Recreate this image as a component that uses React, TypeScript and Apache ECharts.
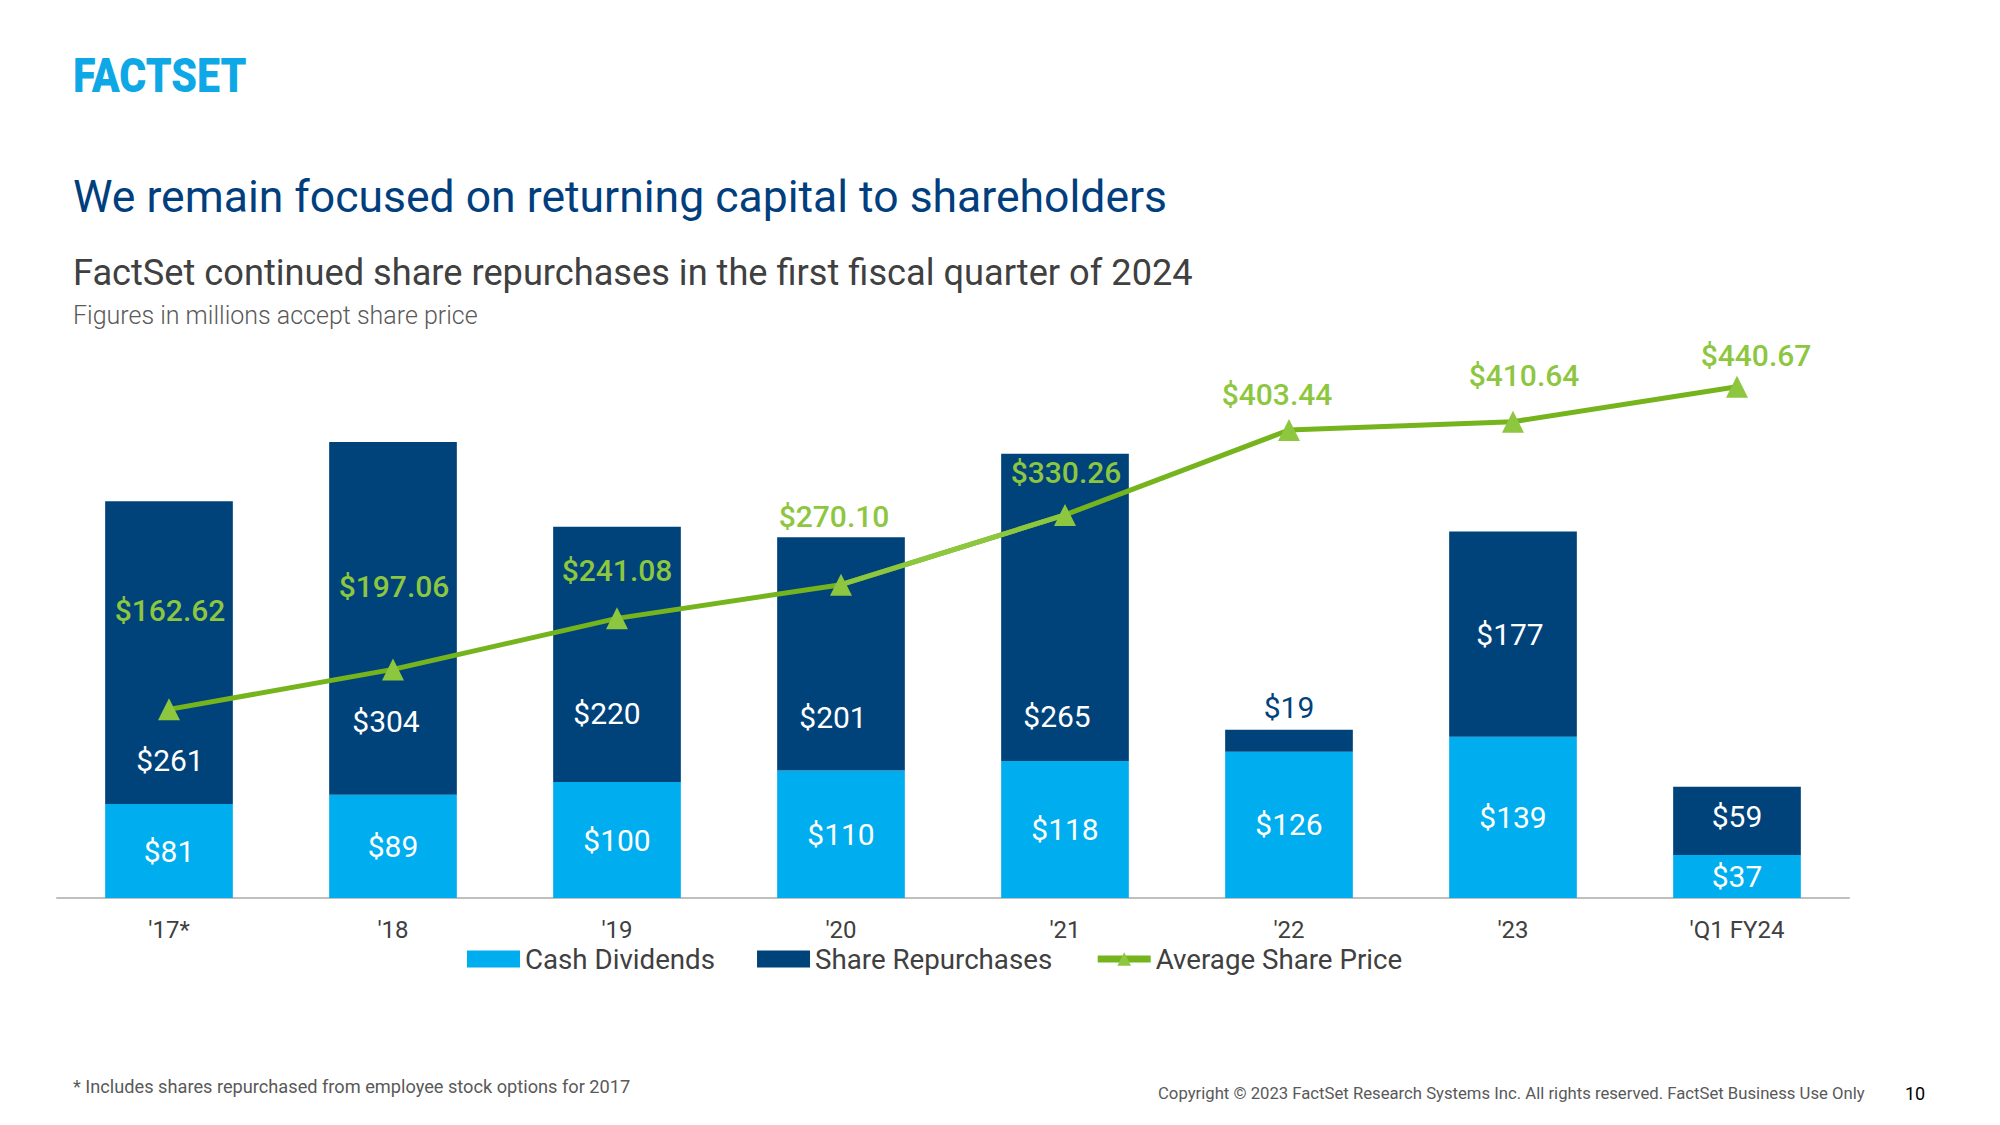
import React, { useEffect, useRef } from "react";
import * as echarts from "echarts";

const categories = ["'17*", "'18", "'19", "'20", "'21", "'22", "'23", "'Q1 FY24"];
const cashDividends = [81, 89, 100, 110, 118, 126, 139, 37];
const shareRepurchases = [261, 304, 220, 201, 265, 19, 177, 59];
const avgSharePrice = [162.62, 197.06, 241.08, 270.1, 330.26, 403.44, 410.64, 440.67];

// label nudges (style only)
const repLabelShift: (number[] | null)[] = [[1, 108], [-7, 103], [-10, 59], [-8, 64], [-8, 109], null, [-3, 0], [0, -4]];
const priceLabelShift = [[1, -68], [1, -52], [0, -17], [-7, -37], [1, -11], [-12, -5], [11, -15], [19, 0]];

const CYAN = "#00AEEF";
const NAVY = "#00437A";
const GREEN_DARK = "#76B41E";
const GREEN_LIGHT = "#8DC63F";
const FONT = "Roboto";

export default function App() {
  const ref = useRef<HTMLDivElement>(null);
  useEffect(() => {
    document.body.style.margin = "0";
    const chart = echarts.init(ref.current!, null, { renderer: "svg" });
    const segment = avgSharePrice.map((v, i) => (i === 3 || i === 4 ? v : "-"));
    chart.setOption({
      animation: false,
      backgroundColor: "#ffffff",
      textStyle: { fontFamily: FONT },
      graphic: [
        {
          type: "text",
          x: 73,
          y: 75,
          scaleX: 0.84,
          style: { text: "FACTSET", font: `900 49px ${FONT}`, fill: "#0EA8E6", verticalAlign: "middle" },
        },
        {
          type: "text",
          x: 73,
          y: 197,
          style: { text: "We remain focused on returning capital to shareholders", font: `400 44.5px ${FONT}`, fill: "#003E7E", verticalAlign: "middle" },
        },
        {
          type: "text",
          x: 73,
          y: 272,
          style: { text: "FactSet continued share repurchases in the first fiscal quarter of 2024", font: `400 36.2px ${FONT}`, fill: "#404040", verticalAlign: "middle" },
        },
        {
          type: "text",
          x: 73,
          y: 315,
          style: { text: "Figures in millions accept share price", font: `300 25px ${FONT}`, fill: "#595959", verticalAlign: "middle" },
        },
        {
          type: "text",
          x: 73,
          y: 1086,
          style: { text: "* Includes shares repurchased from employee stock options for 2017", font: `400 18.2px ${FONT}`, fill: "#595959", verticalAlign: "middle" },
        },
        {
          type: "text",
          x: 1158,
          y: 1093,
          style: { text: "Copyright © 2023 FactSet Research Systems Inc. All rights reserved. FactSet Business Use Only", font: `400 16.7px ${FONT}`, fill: "#595959", verticalAlign: "middle" },
        },
        {
          type: "text",
          x: 1905,
          y: 1093,
          style: { text: "10", font: `400 18px ${FONT}`, fill: "#000000", verticalAlign: "middle" },
        },
      ],
      legend: {
        left: 462,
        top: 940,
        itemWidth: 53,
        itemHeight: 17,
        itemGap: 42,
        data: [
          { name: "Cash Dividends", icon: "rect" },
          { name: "Share Repurchases", icon: "rect" },
          { name: "Average Share Price", lineStyle: { width: 7, color: GREEN_DARK }, itemStyle: { color: GREEN_LIGHT } },
        ],
        textStyle: { fontSize: 27.7, color: "#404040", fontFamily: FONT },
      },
      grid: { left: 57, right: 151, top: 318, bottom: 227, containLabel: false },
      xAxis: {
        type: "category",
        data: categories,
        axisLine: { lineStyle: { color: "#BFBFBF", width: 2 } },
        axisTick: { show: false },
        axisLabel: { fontSize: 24, color: "#404040", margin: 20, fontFamily: FONT },
      },
      yAxis: { type: "value", min: 0, max: 500, show: false, splitLine: { show: false } },
      series: [
        {
          name: "Cash Dividends",
          type: "bar",
          stack: "total",
          barWidth: "57%",
          itemStyle: { color: CYAN },
          label: { show: true, position: "inside", color: "#ffffff", fontSize: 30, fontFamily: FONT, formatter: (p: any) => "$" + p.value },
          data: cashDividends,
        },
        {
          name: "Share Repurchases",
          type: "bar",
          stack: "total",
          barWidth: "57%",
          itemStyle: { color: NAVY },
          label: { show: true, position: "inside", color: "#ffffff", fontSize: 30, fontFamily: FONT, formatter: (p: any) => "$" + p.value },
          data: shareRepurchases.map((v, i) => {
            const s = repLabelShift[i];
            if (!s) return { value: v, label: { position: "top", color: NAVY, distance: 7 } };
            return { value: v, label: { offset: s } };
          }),
        },
        {
          name: "Average Share Price",
          type: "line",
          z: 3,
          symbol: "triangle",
          symbolSize: 22,
          lineStyle: { color: GREEN_DARK, width: 5 },
          itemStyle: { color: GREEN_LIGHT },
          label: {
            show: true,
            position: "top",
            color: GREEN_LIGHT,
            fontSize: 30,
            fontWeight: 500,
            fontFamily: FONT,
            formatter: (p: any) => "$" + Number(p.value).toFixed(2),
          },
          data: avgSharePrice.map((v, i) => ({ value: v, label: { offset: priceLabelShift[i] } })),
        },
        {
          name: "segment",
          type: "line",
          z: 4,
          symbol: "none",
          lineStyle: { color: GREEN_LIGHT, width: 5 },
          silent: true,
          data: segment,
        },
      ],
    });
    return () => chart.dispose();
  }, []);
  return <div ref={ref} style={{ width: 2000, height: 1125 }} />;
}
